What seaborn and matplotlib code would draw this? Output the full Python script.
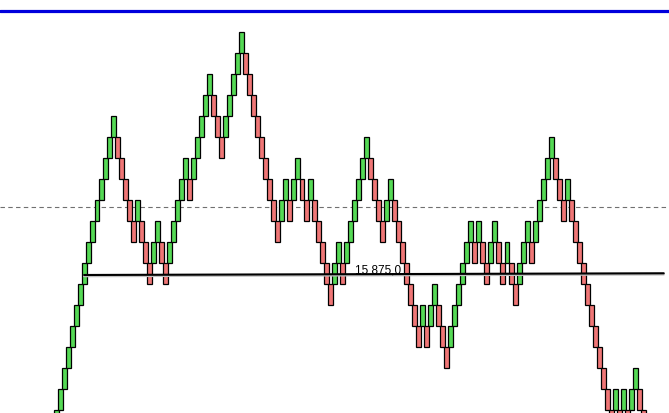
import numpy as np
import pandas as pd
import matplotlib
matplotlib.use('Agg')
import matplotlib.pyplot as plt
import seaborn as sns

# renko box size and the close price of every brick, left to right
box_size = 50
brick_close = [
    15550, 15600, 15650, 15700, 15750, 15800, 15850, 15900, 15950, 16000,
    16050, 16100, 16150, 16200, 16250, 16150, 16100, 16050, 16000, 15950,
    16050, 15950, 15900, 15850, 15950, 16000, 15900, 15850, 15950, 16000,
    16050, 16100, 16150, 16050, 16150, 16200, 16250, 16300, 16350, 16250,
    16200, 16150, 16250, 16300, 16350, 16400, 16450, 16350, 16300, 16250,
    16200, 16150, 16100, 16050, 16000, 15950, 16050, 16100, 16000, 16100,
    16150, 16050, 16000, 16100, 16000, 15950, 15900, 15850, 15800, 15900,
    15950, 15850, 15950, 16000, 16050, 16100, 16150, 16200, 16100, 16050,
    16000, 15950, 16050, 16100, 16000, 15950, 15900, 15850, 15800, 15750,
    15700, 15800, 15700, 15800, 15850, 15750, 15700, 15650, 15750, 15800,
    15850, 15900, 15950, 16000, 15900, 16000, 15900, 15850, 15950, 16000,
    15900, 15850, 15950, 15850, 15800, 15900, 15950, 16000, 15900, 16000,
    16050, 16100, 16150, 16200, 16100, 16050, 16000, 16100, 16000, 15950,
    15900, 15850, 15800, 15750, 15700, 15650, 15600, 15550, 15500, 15600,
    15500, 15600, 15500, 15600, 15650, 15550, 15500,
]

# drawn lines: top level, dashed level and the user trend line
blue_level = 16500
dashed_level = 16033
trend_x = [6.8, 151.0]
trend_y = [15872.2, 15876.3]
trend_label = 15875.0

closes = np.array(brick_close, dtype=float)
up = np.r_[True, np.diff(closes) > 0]
opens = np.where(up, closes - box_size, closes + box_size)
bricks = pd.DataFrame({
    'n': np.arange(len(closes)),
    'bottom': np.minimum(opens, closes),
    'height': float(box_size),
    'up': up,
})

sns.set_style('white')
fig = plt.figure(figsize=(6.69, 4.14), dpi=100)
ax = fig.add_axes([0, 0, 1, 1])

ax.axhline(dashed_level, color='#707070', lw=0.8, ls=(0, (4, 3)), zorder=0.5)

for is_up, colour in [(True, '#55d955'), (False, '#ef7676')]:
    sub = bricks[bricks.up == is_up]
    sns.barplot(data=sub, x='n', y='height', bottom=sub['bottom'].values,
                native_scale=True, width=1.24, color=colour, saturation=1,
                edgecolor='black', linewidth=0.9, errorbar=None, ax=ax)

ax.axhline(blue_level, color='#0000dd', lw=2.3, zorder=4)

sns.lineplot(x=trend_x, y=[v - 2.8 for v in trend_y], color='#c0c0c0', lw=1.6, ax=ax, zorder=4)
sns.lineplot(x=trend_x, y=trend_y, color='black', lw=1.5, ax=ax, zorder=5)

label = f'{trend_label:,.1f}'.replace(',', ' ').replace('.', ',')
ax.text(74.2, 15879.3, label, fontsize=8.5, family='Liberation Sans',
        va='baseline', ha='left', color='black', zorder=6)

ax.set_xlim(-14.13, 152.3)
ax.set_ylim(15543.6, 16529.3)
ax.set_axis_off()

fig.savefig('out.png', dpi=100)
